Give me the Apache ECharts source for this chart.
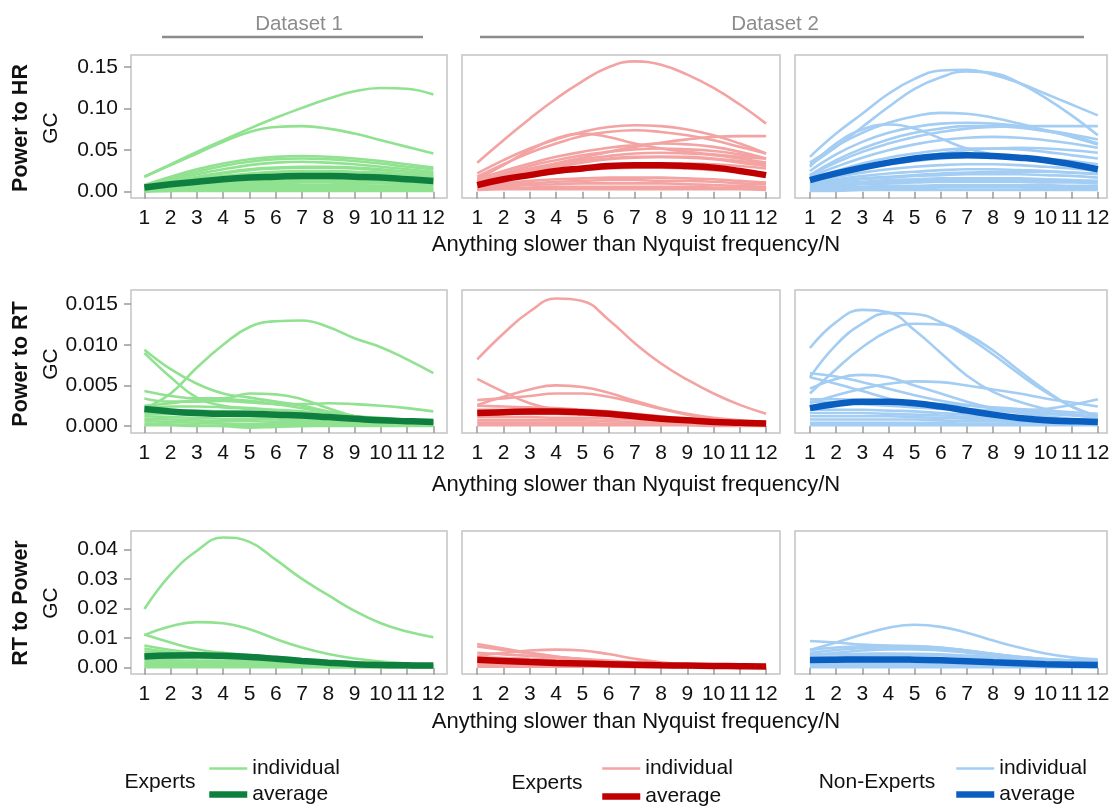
<!DOCTYPE html>
<html><head><meta charset="utf-8">
<script src="https://cdn.jsdelivr.net/npm/echarts@6/dist/echarts.min.js"></script>
<style>html,body{margin:0;padding:0;background:#fff}#c{width:1114px;height:808px}</style>
</head><body><div id="c"></div>
<script>
// ---------- data ----------
const freqN = [1,2,3,4,5,6,7,8,9,10,11,12];
const hrTicks = [0, 0.05, 0.10, 0.15];
const hrTickLabels = ['0.00','0.05','0.10','0.15'];
const rtTicks = [0, 0.005, 0.010, 0.015];
const rtTickLabels = ['0.000','0.005','0.010','0.015'];
const rpTicks = [0, 0.01, 0.02, 0.03, 0.04];
const rpTickLabels = ['0.00','0.01','0.02','0.03','0.04'];
const rowTitles = ['Power to HR','Power to RT','RT to Power'];
const datasetLabels = ['Dataset 1','Dataset 2'];
const xTitle = 'Anything slower than Nyquist frequency/N';

// Power to HR — Dataset 1 Experts
const hrD1Exp = [
 [0.018,0.033,0.048,0.062,0.076,0.089,0.101,0.112,0.121,0.125,0.124,0.117],
 [0.018,0.032,0.046,0.060,0.072,0.078,0.079,0.076,0.070,0.062,0.054,0.046],
 [0.008,0.018,0.027,0.034,0.039,0.042,0.043,0.042,0.040,0.037,0.033,0.029],
 [0.007,0.016,0.024,0.031,0.036,0.039,0.040,0.039,0.037,0.034,0.030,0.027],
 [0.006,0.014,0.021,0.027,0.032,0.035,0.036,0.035,0.033,0.030,0.027,0.024],
 [0.006,0.012,0.018,0.023,0.027,0.029,0.030,0.030,0.029,0.027,0.024,0.021],
 [0.005,0.011,0.017,0.022,0.026,0.028,0.029,0.029,0.028,0.026,0.024,0.022],
 [0.005,0.010,0.015,0.019,0.022,0.024,0.025,0.025,0.024,0.023,0.021,0.019],
 [0.004,0.009,0.014,0.018,0.021,0.023,0.024,0.024,0.023,0.022,0.020,0.018],
 [0.004,0.008,0.012,0.015,0.018,0.020,0.021,0.021,0.020,0.019,0.018,0.016],
 [0.004,0.007,0.010,0.013,0.015,0.016,0.017,0.017,0.016,0.015,0.014,0.013],
 [0.003,0.006,0.009,0.011,0.013,0.015,0.016,0.016,0.016,0.015,0.014,0.013],
 [0.003,0.006,0.008,0.010,0.012,0.013,0.014,0.014,0.014,0.013,0.012,0.011],
 [0.002,0.004,0.006,0.008,0.010,0.011,0.012,0.012,0.012,0.011,0.010,0.009],
 [0.003,0.005,0.007,0.008,0.009,0.010,0.011,0.011,0.010,0.010,0.009,0.008],
 [0.002,0.004,0.005,0.006,0.007,0.008,0.008,0.008,0.008,0.007,0.007,0.006],
 [0.002,0.003,0.004,0.005,0.005,0.006,0.006,0.006,0.006,0.005,0.005,0.004],
 [0.001,0.002,0.003,0.003,0.004,0.004,0.004,0.004,0.004,0.004,0.003,0.003],
 [0.001,0.001,0.002,0.002,0.002,0.002,0.002,0.002,0.002,0.002,0.002,0.002],
 [0.000,0.001,0.001,0.001,0.001,0.001,0.001,0.001,0.001,0.001,0.001,0.001]
];
const hrD1ExpAvg = [0.005,0.009,0.012,0.015,0.017,0.018,0.019,0.019,0.018,0.017,0.015,0.013];

// Power to HR — Dataset 2 Experts
const hrD2Exp = [
 [0.035,0.062,0.088,0.112,0.133,0.150,0.157,0.153,0.141,0.125,0.105,0.082],
 [0.022,0.038,0.052,0.063,0.072,0.078,0.080,0.079,0.075,0.068,0.058,0.046],
 [0.018,0.033,0.047,0.058,0.067,0.072,0.074,0.072,0.068,0.062,0.054,0.046],
 [0.015,0.032,0.050,0.064,0.070,0.066,0.058,0.052,0.048,0.045,0.042,0.040],
 [0.010,0.018,0.026,0.034,0.041,0.048,0.054,0.059,0.063,0.066,0.067,0.067],
 [0.015,0.025,0.034,0.042,0.048,0.053,0.056,0.058,0.057,0.054,0.048,0.040],
 [0.012,0.022,0.031,0.038,0.044,0.048,0.051,0.052,0.051,0.049,0.045,0.040],
 [0.012,0.020,0.028,0.034,0.039,0.043,0.046,0.047,0.046,0.044,0.040,0.035],
 [0.010,0.018,0.026,0.032,0.037,0.040,0.042,0.042,0.041,0.039,0.035,0.031],
 [0.010,0.017,0.024,0.030,0.035,0.039,0.041,0.042,0.042,0.040,0.037,0.033],
 [0.009,0.015,0.020,0.025,0.028,0.031,0.033,0.034,0.034,0.033,0.031,0.028],
 [0.008,0.014,0.019,0.023,0.026,0.028,0.029,0.029,0.028,0.026,0.024,0.021],
 [0.006,0.010,0.013,0.015,0.016,0.017,0.017,0.017,0.016,0.015,0.013,0.011],
 [0.005,0.008,0.010,0.012,0.013,0.014,0.014,0.013,0.013,0.012,0.010,0.009],
 [0.004,0.006,0.008,0.009,0.010,0.010,0.010,0.010,0.009,0.008,0.007,0.006],
 [0.003,0.004,0.005,0.006,0.006,0.006,0.006,0.006,0.006,0.005,0.005,0.004],
 [0.002,0.003,0.003,0.003,0.003,0.003,0.003,0.003,0.003,0.003,0.003,0.002]
];
const hrD2ExpAvg = [0.008,0.015,0.020,0.025,0.028,0.031,0.032,0.032,0.031,0.029,0.025,0.020];

// Power to HR — Dataset 2 Non-Experts
const hrD2Non = [
 [0.042,0.070,0.094,0.118,0.136,0.146,0.147,0.141,0.131,0.118,0.105,0.092],
 [0.032,0.054,0.078,0.102,0.124,0.138,0.145,0.143,0.131,0.113,0.092,0.068],
 [0.035,0.055,0.071,0.083,0.091,0.095,0.094,0.089,0.082,0.074,0.066,0.057],
 [0.030,0.058,0.075,0.081,0.076,0.064,0.052,0.045,0.040,0.036,0.032,0.028],
 [0.020,0.035,0.048,0.058,0.066,0.072,0.076,0.078,0.079,0.079,0.079,0.079],
 [0.025,0.045,0.060,0.071,0.078,0.082,0.083,0.082,0.079,0.074,0.069,0.063],
 [0.020,0.038,0.052,0.063,0.071,0.076,0.079,0.079,0.077,0.073,0.067,0.058],
 [0.018,0.030,0.041,0.050,0.057,0.062,0.065,0.066,0.065,0.062,0.058,0.053],
 [0.012,0.020,0.028,0.035,0.041,0.046,0.050,0.052,0.053,0.052,0.050,0.047],
 [0.015,0.025,0.034,0.041,0.046,0.050,0.052,0.052,0.051,0.048,0.044,0.040],
 [0.015,0.022,0.028,0.033,0.037,0.040,0.042,0.043,0.042,0.040,0.037,0.033],
 [0.012,0.018,0.023,0.027,0.030,0.032,0.033,0.033,0.032,0.030,0.028,0.025],
 [0.010,0.015,0.019,0.022,0.024,0.026,0.027,0.027,0.026,0.025,0.023,0.021],
 [0.009,0.013,0.016,0.018,0.020,0.022,0.023,0.024,0.024,0.024,0.023,0.022],
 [0.008,0.012,0.015,0.017,0.019,0.020,0.021,0.021,0.021,0.020,0.019,0.017],
 [0.007,0.010,0.012,0.014,0.015,0.016,0.016,0.016,0.016,0.015,0.014,0.013],
 [0.006,0.008,0.011,0.012,0.013,0.014,0.014,0.014,0.014,0.013,0.012,0.012],
 [0.005,0.007,0.009,0.010,0.011,0.012,0.012,0.012,0.012,0.011,0.011,0.010],
 [0.004,0.005,0.006,0.007,0.007,0.008,0.008,0.008,0.008,0.008,0.007,0.007],
 [0.003,0.004,0.005,0.005,0.006,0.006,0.006,0.006,0.006,0.006,0.005,0.005],
 [0.002,0.003,0.004,0.004,0.004,0.005,0.005,0.005,0.005,0.004,0.004,0.004],
 [0.001,0.001,0.002,0.002,0.002,0.002,0.002,0.002,0.002,0.002,0.002,0.002]
];
const hrD2NonAvg = [0.014,0.022,0.029,0.035,0.040,0.043,0.044,0.043,0.041,0.038,0.033,0.027];

// Power to RT — Dataset 1 Experts
const rtD1Exp = [
 [0.0022,0.0040,0.0072,0.0100,0.0122,0.0129,0.0130,0.0122,0.0108,0.0097,0.0082,0.0065],
 [0.0094,0.0070,0.0052,0.0040,0.0035,0.0030,0.0025,0.0018,0.0012,0.0008,0.0006,0.0005],
 [0.0090,0.0060,0.0035,0.0025,0.0022,0.0020,0.0018,0.0015,0.0012,0.0010,0.0008,0.0007],
 [0.0043,0.0037,0.0034,0.0034,0.0040,0.0039,0.0033,0.0022,0.0012,0.0008,0.0006,0.0005],
 [0.0034,0.0030,0.0030,0.0031,0.0029,0.0027,0.0027,0.0028,0.0027,0.0025,0.0022,0.0018],
 [0.0025,0.0028,0.0032,0.0033,0.0031,0.0027,0.0022,0.0017,0.0012,0.0009,0.0007,0.0006],
 [0.0022,0.0024,0.0024,0.0023,0.0021,0.0019,0.0016,0.0013,0.0010,0.0008,0.0006,0.0005],
 [0.0018,0.0019,0.0019,0.0018,0.0017,0.0015,0.0013,0.0011,0.0009,0.0007,0.0005,0.0004],
 [0.0015,0.0015,0.0014,0.0013,0.0012,0.0011,0.0010,0.0008,0.0007,0.0006,0.0005,0.0004],
 [0.0012,0.0011,0.0010,0.0009,0.0009,0.0008,0.0007,0.0006,0.0005,0.0004,0.0004,0.0003],
 [0.0009,0.0008,0.0007,0.0006,0.0006,0.0005,0.0005,0.0004,0.0004,0.0003,0.0003,0.0002],
 [0.0006,0.0005,0.0004,0.0003,0.0002,0.0002,0.0002,0.0002,0.0002,0.0002,0.0001,0.0001],
 [0.0003,0.0002,0.0001,0.0000,-0.0002,-0.0001,0.0000,0.0001,0.0001,0.0001,0.0001,0.0001],
 [0.0001,0.0001,0.0000,0.0000,0.0000,0.0000,0.0000,0.0000,0.0000,0.0000,0.0000,0.0000]
];
const rtD1ExpAvg = [0.0021,0.0018,0.0016,0.0015,0.0015,0.0014,0.0013,0.0011,0.0009,0.0007,0.0006,0.0005];

// Power to RT — Dataset 2 Experts
const rtD2Exp = [
 [0.0082,0.0114,0.0141,0.0157,0.0154,0.0131,0.0102,0.0077,0.0057,0.0040,0.0026,0.0015],
 [0.0058,0.0042,0.0028,0.0020,0.0016,0.0013,0.0011,0.0009,0.0007,0.0006,0.0005,0.0004],
 [0.0026,0.0036,0.0045,0.0050,0.0048,0.0041,0.0031,0.0022,0.0015,0.0010,0.0007,0.0005],
 [0.0032,0.0034,0.0037,0.0040,0.0040,0.0036,0.0029,0.0021,0.0014,0.0009,0.0006,0.0004],
 [0.0025,0.0024,0.0023,0.0022,0.0020,0.0018,0.0015,0.0012,0.0009,0.0007,0.0005,0.0004],
 [0.0020,0.0020,0.0020,0.0019,0.0018,0.0016,0.0013,0.0010,0.0008,0.0006,0.0004,0.0003],
 [0.0015,0.0015,0.0015,0.0015,0.0014,0.0012,0.0010,0.0008,0.0006,0.0005,0.0003,0.0002],
 [0.0011,0.0011,0.0011,0.0010,0.0010,0.0009,0.0008,0.0006,0.0005,0.0004,0.0003,0.0002],
 [0.0007,0.0007,0.0007,0.0007,0.0007,0.0006,0.0005,0.0004,0.0003,0.0003,0.0002,0.0002],
 [0.0004,0.0004,0.0004,0.0004,0.0004,0.0003,0.0003,0.0003,0.0002,0.0002,0.0001,0.0001],
 [0.0001,0.0001,0.0001,0.0001,0.0001,0.0001,0.0001,0.0001,0.0001,0.0000,0.0000,0.0000]
];
const rtD2ExpAvg = [0.0016,0.0017,0.0018,0.0018,0.0017,0.0015,0.0012,0.0009,0.0007,0.0005,0.0004,0.0003];

// Power to RT — Dataset 2 Non-Experts
const rtD2Non = [
 [0.0096,0.0128,0.0143,0.0140,0.0118,0.0090,0.0062,0.0042,0.0030,0.0021,0.0014,0.0010],
 [0.0060,0.0100,0.0126,0.0139,0.0138,0.0128,0.0110,0.0088,0.0064,0.0042,0.0024,0.0012],
 [0.0040,0.0070,0.0097,0.0117,0.0126,0.0125,0.0113,0.0093,0.0068,0.0044,0.0024,0.0012],
 [0.0046,0.0058,0.0063,0.0060,0.0050,0.0040,0.0030,0.0022,0.0016,0.0012,0.0009,0.0007],
 [0.0028,0.0038,0.0046,0.0052,0.0055,0.0054,0.0050,0.0045,0.0040,0.0034,0.0029,0.0024],
 [0.0030,0.0029,0.0027,0.0025,0.0023,0.0021,0.0020,0.0019,0.0019,0.0021,0.0026,0.0033],
 [0.0065,0.0061,0.0054,0.0046,0.0038,0.0031,0.0026,0.0022,0.0019,0.0016,0.0014,0.0012],
 [0.0060,0.0052,0.0043,0.0034,0.0028,0.0024,0.0021,0.0019,0.0017,0.0015,0.0013,0.0011],
 [0.0033,0.0033,0.0032,0.0031,0.0029,0.0027,0.0025,0.0023,0.0021,0.0019,0.0017,0.0015],
 [0.0020,0.0020,0.0020,0.0019,0.0018,0.0016,0.0014,0.0012,0.0010,0.0009,0.0008,0.0007],
 [0.0016,0.0016,0.0016,0.0015,0.0014,0.0013,0.0011,0.0010,0.0009,0.0008,0.0007,0.0006],
 [0.0012,0.0012,0.0012,0.0012,0.0011,0.0010,0.0009,0.0008,0.0007,0.0006,0.0005,0.0005],
 [0.0008,0.0008,0.0008,0.0008,0.0008,0.0007,0.0006,0.0006,0.0005,0.0005,0.0004,0.0004],
 [0.0004,0.0004,0.0004,0.0004,0.0004,0.0004,0.0003,0.0003,0.0003,0.0003,0.0002,0.0002],
 [0.0001,0.0001,0.0001,0.0001,0.0001,0.0001,0.0001,0.0001,0.0001,0.0001,0.0001,0.0001]
];
const rtD2NonAvg = [0.0022,0.0027,0.0030,0.0030,0.0028,0.0024,0.0019,0.0014,0.0010,0.0007,0.0006,0.0005];

// RT to Power — Dataset 1 Experts
const rpD1Exp = [
 [0.0198,0.0315,0.0395,0.0440,0.0425,0.0365,0.0300,0.0245,0.0192,0.0150,0.0122,0.0103],
 [0.0110,0.0140,0.0154,0.0150,0.0130,0.0097,0.0068,0.0046,0.0031,0.0021,0.0015,0.0011],
 [0.0112,0.0085,0.0062,0.0050,0.0043,0.0036,0.0028,0.0020,0.0014,0.0010,0.0008,0.0006],
 [0.0075,0.0060,0.0050,0.0044,0.0038,0.0032,0.0025,0.0018,0.0013,0.0009,0.0007,0.0005],
 [0.0065,0.0052,0.0045,0.0040,0.0035,0.0029,0.0023,0.0017,0.0012,0.0009,0.0007,0.0005],
 [0.0055,0.0048,0.0043,0.0040,0.0036,0.0031,0.0025,0.0019,0.0014,0.0010,0.0007,0.0005],
 [0.0045,0.0042,0.0040,0.0038,0.0034,0.0029,0.0023,0.0017,0.0012,0.0009,0.0007,0.0005],
 [0.0035,0.0034,0.0033,0.0031,0.0028,0.0024,0.0019,0.0014,0.0010,0.0008,0.0006,0.0005],
 [0.0025,0.0025,0.0024,0.0023,0.0021,0.0018,0.0015,0.0011,0.0008,0.0006,0.0005,0.0004],
 [0.0018,0.0018,0.0017,0.0016,0.0015,0.0013,0.0011,0.0009,0.0007,0.0005,0.0004,0.0003],
 [0.0012,0.0012,0.0011,0.0011,0.0010,0.0009,0.0008,0.0006,0.0005,0.0004,0.0003,0.0003],
 [0.0006,0.0006,0.0006,0.0006,0.0005,0.0005,0.0004,0.0004,0.0003,0.0003,0.0002,0.0002],
 [0.0002,0.0002,0.0002,0.0002,0.0002,0.0002,0.0002,0.0001,0.0001,0.0001,0.0001,0.0001]
];
const rpD1ExpAvg = [0.0038,0.0041,0.0042,0.0040,0.0036,0.0030,0.0023,0.0017,0.0012,0.0009,0.0008,0.0007];

// RT to Power — Dataset 2 Experts
const rpD2Exp = [
 [0.0080,0.0065,0.0050,0.0038,0.0028,0.0020,0.0014,0.0010,0.0007,0.0005,0.0004,0.0003],
 [0.0072,0.0060,0.0048,0.0037,0.0028,0.0020,0.0014,0.0010,0.0007,0.0005,0.0004,0.0003],
 [0.0040,0.0050,0.0058,0.0061,0.0058,0.0046,0.0030,0.0018,0.0011,0.0007,0.0005,0.0004],
 [0.0050,0.0045,0.0040,0.0035,0.0030,0.0024,0.0018,0.0013,0.0009,0.0007,0.0005,0.0004],
 [0.0035,0.0033,0.0030,0.0027,0.0024,0.0020,0.0016,0.0012,0.0009,0.0007,0.0005,0.0004],
 [0.0028,0.0026,0.0024,0.0022,0.0020,0.0017,0.0014,0.0011,0.0008,0.0006,0.0005,0.0004],
 [0.0020,0.0019,0.0018,0.0017,0.0015,0.0013,0.0011,0.0009,0.0007,0.0005,0.0004,0.0003],
 [0.0014,0.0013,0.0013,0.0012,0.0011,0.0010,0.0008,0.0007,0.0005,0.0004,0.0003,0.0003],
 [0.0008,0.0008,0.0008,0.0007,0.0007,0.0006,0.0005,0.0004,0.0004,0.0003,0.0002,0.0002],
 [0.0003,0.0003,0.0003,0.0003,0.0003,0.0003,0.0002,0.0002,0.0002,0.0001,0.0001,0.0001]
];
const rpD2ExpAvg = [0.0027,0.0023,0.0019,0.0016,0.0014,0.0012,0.0010,0.0008,0.0007,0.0006,0.0005,0.0004];

// RT to Power — Dataset 2 Non-Experts
const rpD2Non = [
 [0.0060,0.0085,0.0112,0.0135,0.0145,0.0138,0.0118,0.0092,0.0068,0.0048,0.0035,0.0028],
 [0.0090,0.0085,0.0078,0.0075,0.0073,0.0068,0.0058,0.0046,0.0036,0.0028,0.0024,0.0022],
 [0.0060,0.0068,0.0072,0.0073,0.0072,0.0067,0.0058,0.0047,0.0037,0.0029,0.0024,0.0021],
 [0.0050,0.0060,0.0066,0.0069,0.0068,0.0063,0.0055,0.0045,0.0036,0.0029,0.0024,0.0021],
 [0.0040,0.0050,0.0058,0.0062,0.0062,0.0058,0.0051,0.0042,0.0034,0.0028,0.0023,0.0020],
 [0.0045,0.0046,0.0047,0.0048,0.0047,0.0045,0.0041,0.0036,0.0031,0.0027,0.0024,0.0022],
 [0.0035,0.0038,0.0041,0.0043,0.0043,0.0041,0.0037,0.0032,0.0027,0.0023,0.0020,0.0018],
 [0.0028,0.0030,0.0032,0.0033,0.0033,0.0031,0.0028,0.0025,0.0021,0.0018,0.0015,0.0013],
 [0.0020,0.0021,0.0022,0.0023,0.0023,0.0022,0.0020,0.0018,0.0016,0.0014,0.0012,0.0010],
 [0.0013,0.0014,0.0015,0.0015,0.0015,0.0014,0.0013,0.0012,0.0011,0.0010,0.0009,0.0008],
 [0.0007,0.0007,0.0008,0.0008,0.0008,0.0008,0.0007,0.0007,0.0006,0.0006,0.0005,0.0005],
 [0.0002,0.0002,0.0002,0.0002,0.0002,0.0002,0.0002,0.0002,0.0002,0.0002,0.0002,0.0002]
];
const rpD2NonAvg = [0.0026,0.0027,0.0028,0.0028,0.0027,0.0025,0.0022,0.0018,0.0015,0.0012,0.0010,0.0009];

// ---------- layout / style ----------
const FONT = '"Liberation Sans", Arial, Helvetica, sans-serif';
const groups = [
  {label:'Experts', ind:'#90E290', avg:'#0F7F3F', key:'g'},
  {label:'Experts', ind:'#F4A3A3', avg:'#C00000', key:'r'},
  {label:'Non-Experts', ind:'#A3CDF3', avg:'#0A5EC0', key:'b'}
];
const panels = [
  [hrD1Exp, hrD2Exp, hrD2Non],
  [rtD1Exp, rtD2Exp, rtD2Non],
  [rpD1Exp, rpD2Exp, rpD2Non]
];
const averages = [
  [hrD1ExpAvg, hrD2ExpAvg, hrD2NonAvg],
  [rtD1ExpAvg, rtD2ExpAvg, rtD2NonAvg],
  [rpD1ExpAvg, rpD2ExpAvg, rpD2NonAvg]
];
const rowTicks = [hrTicks, rtTicks, rpTicks];
const rowTickLabels = [hrTickLabels, rtTickLabels, rpTickLabels];
const rowRange = [[-0.0076, 0.1647], [-0.00086, 0.01675], [-0.00213, 0.04618]];
const colLeft = [131, 462, 795], colWidth = [316, 318, 312];
const colXRange = [[0.49, 12.52], [0.42, 12.53], [0.43, 12.35]];
const rowTop = [55, 290, 531], rowH = 143;

const grids = [], xAxes = [], yAxes = [], series = [];
for (let r = 0; r < 3; r++) {
  for (let c = 0; c < 3; c++) {
    const gi = r * 3 + c;
    grids.push({left: colLeft[c], top: rowTop[r], width: colWidth[c], height: rowH,
      show: true, borderColor: '#C4C4C4', borderWidth: 1.5, backgroundColor: 'transparent'});
    xAxes.push({gridIndex: gi, type: 'value', min: colXRange[c][0], max: colXRange[c][1],
      axisLine: {show: false}, splitLine: {show: false},
      axisTick: {show: true, customValues: freqN, length: 7, lineStyle: {color: '#9A9A9A', width: 1.5}},
      axisLabel: {show: true, customValues: freqN, margin: 10, fontSize: 21, fontFamily: FONT, color: '#111'}});
    const ticks = rowTicks[r], labs = rowTickLabels[r];
    yAxes.push({gridIndex: gi, type: 'value', min: rowRange[r][0], max: rowRange[r][1],
      axisLine: {show: false}, splitLine: {show: false},
      axisTick: {show: c === 0, customValues: ticks, length: 7, lineStyle: {color: '#9A9A9A', width: 1.5}},
      axisLabel: {show: c === 0, customValues: ticks, margin: 13, fontSize: 21, fontFamily: FONT, color: '#111',
        formatter: v => { let k = 0, d = Infinity; ticks.forEach((t, i) => { if (Math.abs(t - v) < d) { d = Math.abs(t - v); k = i; } }); return labs[k]; }}});
    const g = groups[c];
    panels[r][c].forEach(vals => {
      series.push({type: 'line', name: g.key + '|individual', xAxisIndex: gi, yAxisIndex: gi,
        data: freqN.map((x, i) => [x, vals[i]]), smooth: 0.45, symbol: 'none', silent: true,
        lineStyle: {color: g.ind, width: 2.6}, itemStyle: {color: g.ind}, z: 2});
    });
    series.push({type: 'line', name: g.key + '|average', xAxisIndex: gi, yAxisIndex: gi,
      data: freqN.map((x, i) => [x, averages[r][c][i]]), smooth: 0.45, symbol: 'none', silent: true,
      lineStyle: {color: g.avg, width: 6.5}, itemStyle: {color: g.avg}, z: 3});
  }
}

const legendLeft = [206, 599, 953];
const legendGap = [5, 7, 5];
const legends = groups.map((g, i) => ({
  orient: 'vertical', left: legendLeft[i], top: 758, padding: 0,
  itemWidth: 38, itemHeight: 14, itemGap: legendGap[i],
  selectedMode: false,
  itemStyle: {opacity: 0, borderWidth: 0},
  lineStyle: {width: 'inherit'},
  data: [g.key + '|individual', g.key + '|average'],
  formatter: n => n.split('|')[1],
  textStyle: {fontSize: 21, fontFamily: FONT, color: '#111', lineHeight: 21}
}));

const txt = (t, x, y, size, opts = {}) => ({
  type: 'text', x, y, rotation: opts.rot || 0, silent: true,
  style: {text: t, font: (opts.weight || 'normal') + ' ' + size + 'px ' + FONT, fill: opts.fill || '#111',
    align: 'center', verticalAlign: 'middle', textAlign: 'center', textVerticalAlign: 'middle'}
});
const rowCenter = [128, 364, 603];
const graphics = [
  txt(datasetLabels[0], 299, 24, 20.5, {fill: '#8C8C8C'}),
  txt(datasetLabels[1], 775, 24, 20.5, {fill: '#8C8C8C'}),
  {type: 'line', shape: {x1: 162, y1: 37, x2: 423, y2: 37}, style: {stroke: '#8C8C8C', lineWidth: 2.5}},
  {type: 'line', shape: {x1: 480, y1: 37, x2: 1084, y2: 37}, style: {stroke: '#8C8C8C', lineWidth: 2.5}}
];
for (let r = 0; r < 3; r++) {
  graphics.push(txt(rowTitles[r], 21, rowCenter[r], 21.5, {weight: 'bold', rot: Math.PI / 2}));
  graphics.push(txt('GC', 51, rowCenter[r], 21, {rot: Math.PI / 2}));
  graphics.push(txt(xTitle, 636, [245, 485, 722][r], 22));
}
graphics.push(txt(groups[0].label, 160, 782, 21));
graphics.push(txt(groups[1].label, 547, 783, 21));
graphics.push(txt(groups[2].label, 877, 782, 21));

const chart = echarts.init(document.getElementById('c'), null, {renderer: 'canvas'});
chart.setOption({
  animation: false,
  backgroundColor: '#fff',
  grid: grids, xAxis: xAxes, yAxis: yAxes, series,
  legend: legends,
  graphic: {elements: graphics}
});
</script></body></html>
